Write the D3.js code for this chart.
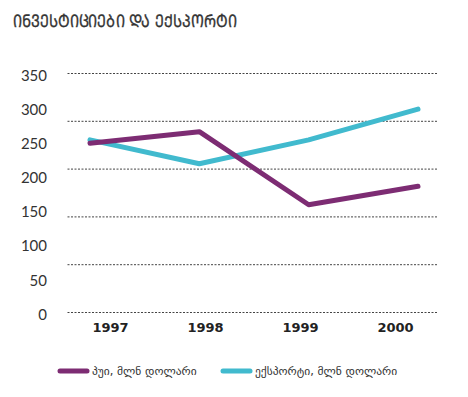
<!DOCTYPE html>
<html><head><meta charset="utf-8">
<script src="https://cdn.jsdelivr.net/npm/d3@7"></script>
<style>body{margin:0;background:#fff}svg{display:block}</style>
</head><body>
<script>
const years = ["1997","1998","1999","2000"];
const fdi = [250, 267, 160, 187];
const exportsV = [255, 220, 255, 300];
const yTicks = [0,50,100,150,200,250,300,350];
const gridVals = [0,70,140,210,280,350];
const title = "ინვესტიციები და ექსპორტი";
const seriesNames = ["პუი, მლნ დოლარი","ექსპორტი, მლნ დოლარი"];
const colors = ["#7d2c73","#41bace"];

const W=468,H=397;
const svg=d3.select("body").append("svg").attr("width",W).attr("height",H);
const y=d3.scaleLinear().domain([0,350]).range([314,75]);
const yGrid=d3.scaleLinear().domain([0,350]).range([312,73]);
const xPts=d3.scalePoint().domain(years).range([90,418]);
const xLab=d3.scalePoint().domain(years).range([110,395]);

// Mtavruli (capital) form of the title
const mt = Array.from(title).map(c=>{const k=c.codePointAt(0);return (k>=0x10D0&&k<=0x10FA)?String.fromCodePoint(k-0x10D0+0x1C90):c;}).join("");
svg.append("text").attr("x",13).attr("y",27).text(mt)
  .attr("font-family","DejaVu Sans").attr("font-size",17.5).attr("fill","#333")
  .attr("stroke","#333").attr("stroke-width",0.35)
  .attr("textLength",224).attr("lengthAdjust","spacingAndGlyphs");

// grid
const g=svg.append("g").attr("transform","translate(437,0)")
  .call(d3.axisLeft(yGrid).tickValues(gridVals).tickSize(370).tickFormat(""));
g.select(".domain").remove();
g.selectAll(".tick line").attr("stroke","#444").attr("stroke-dasharray","2,1.5").attr("stroke-width",1);

// y labels
const ya=svg.append("g").attr("transform","translate(47,0)")
  .call(d3.axisLeft(y).tickValues(yTicks).tickSize(0).tickPadding(0));
ya.select(".domain").remove();
ya.selectAll("text").attr("font-family","Lato").attr("font-size",15).attr("fill","#333").attr("dy","0.35em");

// x labels
const xa=svg.append("g").attr("transform","translate(0,323)")
  .call(d3.axisBottom(xLab).tickSize(0).tickPadding(0));
xa.select(".domain").remove();
xa.selectAll("text").attr("font-family","DejaVu Sans").attr("font-weight","bold").attr("font-size",13).attr("fill","#222");

const line=d3.line().x((d,i)=>xPts(years[i])).y(d=>y(d));
[exportsV,fdi].forEach((s,j)=>{
  const i = j===0?1:0;
  svg.append("path").attr("d",line(s)).attr("fill","none").attr("stroke",colors[i])
    .attr("stroke-width",5).attr("stroke-linejoin","round").attr("stroke-linecap","round");
});

// legend
const legX=[60,223];
seriesNames.forEach((n,i)=>{
  svg.append("line").attr("x1",legX[i]).attr("x2",legX[i]+27).attr("y1",371).attr("y2",371)
    .attr("stroke",colors[i]).attr("stroke-width",5).attr("stroke-linecap","round");
  svg.append("text").attr("x",legX[i]+32).attr("y",375).text(n)
    .attr("font-family","DejaVu Sans").attr("font-size",11.5).attr("fill","#333");
});
</script>
</body></html>
